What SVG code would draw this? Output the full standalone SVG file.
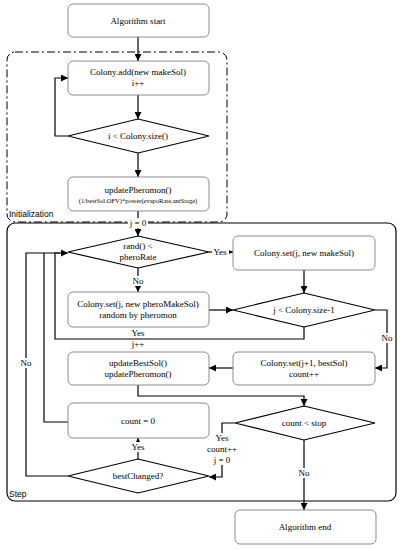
<svg xmlns="http://www.w3.org/2000/svg" width="400" height="550" viewBox="0 0 400 550">
<defs>
<marker id="ah" viewBox="0 0 10 10" refX="10" refY="5" markerWidth="7" markerHeight="7" markerUnits="userSpaceOnUse" orient="auto">
<path d="M0,0 L10,5 L0,10 z" fill="#000"/>
</marker>
<style>
.box{fill:#fff;stroke:#7f7f7f;stroke-width:0.9}
.dia{fill:#fff;stroke:#000;stroke-width:1.2}
.ln{fill:none;stroke:#000;stroke-width:1.2}
.arr{fill:none;stroke:#000;stroke-width:1.2;marker-end:url(#ah)}
.t{font-family:"Liberation Serif","Times New Roman",serif;font-size:9px;text-anchor:middle;fill:#000}
.s{font-family:"Liberation Serif","Times New Roman",serif;font-size:6.5px;text-anchor:middle;fill:#000}
.g{font-family:"Liberation Sans",Arial,sans-serif;font-size:8.5px;fill:#000}
.bg{fill:#fff}
</style>
</defs>
<rect width="400" height="550" fill="#fff"/>

<g id="init-group">
<rect x="7" y="52" width="220" height="170" rx="8" fill="none" stroke="#000" stroke-width="1" stroke-dasharray="8,3,2,3"/>
<text class="g" x="9" y="217">Initialization</text>
</g>
<g id="step-group">
<rect x="7" y="223" width="389" height="278" rx="8" fill="none" stroke="#000" stroke-width="1.2"/>
<text class="g" x="9" y="497">Step</text>
</g>

<g id="connectors">
<path class="arr" d="M138,37 V61"/>
<path class="arr" d="M138,95 V119"/>
<path class="arr" d="M68,136 H55 V78 H68"/>
<path class="arr" d="M138,153 V177"/>
<path class="arr" d="M138,211 V236"/>
<path class="arr" d="M209,252 H233"/>
<path class="arr" d="M138,268 V292"/>
<path class="arr" d="M304,270 V293"/>
<path class="arr" d="M209,310 H233"/>
<path class="arr" d="M304,327 V339 H55 V253 H68"/>
<path class="ln" d="M68,422 H44 V253"/>
<path class="ln" d="M68,476 H26 V253 H60"/>
<path class="arr" d="M375,310 H387 V368 H375"/>
<path class="arr" d="M233,368 H209"/>
<path class="arr" d="M138,385 V396 H304 V406"/>
<path class="arr" d="M235,423 H222 V477 H209"/>
<path class="arr" d="M138,459 V438"/>
<path class="arr" d="M304,440 V510"/>
<rect class="bg" x="128" y="218" width="20" height="10"/>
<text class="t" x="138" y="226">j = 0</text>
<rect class="bg" x="212" y="247" width="17" height="10"/>
<text class="t" x="220" y="255">Yes</text>
<rect class="bg" x="130" y="276" width="16" height="10"/>
<text class="t" x="138" y="284">No</text>
<text class="t" x="138" y="336">Yes</text>
<text class="t" x="138" y="347">j++</text>
<rect class="bg" x="379" y="333" width="16" height="10"/>
<text class="t" x="387" y="341">No</text>
<rect class="bg" x="18" y="358" width="16" height="10"/>
<text class="t" x="26" y="366">No</text>
<rect class="bg" x="207" y="433" width="30" height="32"/>
<text class="t" x="222" y="441">Yes</text>
<text class="t" x="222" y="452">count++</text>
<text class="t" x="222" y="463">j = 0</text>
<rect class="bg" x="129" y="442" width="18" height="10"/>
<text class="t" x="138" y="450">Yes</text>
<rect class="bg" x="296" y="468" width="16" height="10"/>
<text class="t" x="304" y="476">No</text>
</g>

<g id="start">
<rect class="box" x="68" y="4" width="141" height="33" rx="5"/>
<text class="t" x="138" y="23.5">Algorithm start</text>
</g>
<g id="colony-add">
<rect class="box" x="68" y="61" width="141" height="34" rx="5"/>
<text class="t" x="138" y="75">Colony.add(new makeSol)</text>
<text class="t" x="138" y="86">i++</text>
</g>
<g id="dec-size">
<polygon class="dia" points="138,119 209,136 138,153 68,136"/>
<text class="t" x="138" y="139">i &lt; Colony.size()</text>
</g>
<g id="update-phero-init">
<rect class="box" x="68" y="177" width="141" height="34" rx="5"/>
<text class="t" x="138" y="193">updatePheromon()</text>
<text class="s" x="138" y="203">(1/bestSol.OFV)*power(evapoRate,antStage)</text>
</g>
<g id="dec-rand">
<polygon class="dia" points="138,236 209,252 138,268 68,252"/>
<text class="t" x="138" y="249">rand() &lt;</text>
<text class="t" x="138" y="260">pheroRate</text>
</g>
<g id="colony-set-new">
<rect class="box" x="233" y="236" width="142" height="34" rx="5"/>
<text class="t" x="304" y="256">Colony.set(j, new makeSol)</text>
</g>
<g id="colony-set-phero">
<rect class="box" x="68" y="292" width="141" height="35" rx="5"/>
<text class="t" x="138" y="307">Colony.set(j, new pheroMakeSol)</text>
<text class="t" x="138" y="318">random by pheromon</text>
</g>
<g id="dec-j">
<polygon class="dia" points="304,293 375,310 304,327 233,310"/>
<text class="t" x="304" y="313">j &lt; Colony.size-1</text>
</g>
<g id="colony-set-best">
<rect class="box" x="233" y="352" width="142" height="33" rx="5"/>
<text class="t" x="304" y="366">Colony.set(j+1, bestSol)</text>
<text class="t" x="304" y="377">count++</text>
</g>
<g id="update-best">
<rect class="box" x="68" y="352" width="141" height="33" rx="5"/>
<text class="t" x="138" y="366">updateBestSol()</text>
<text class="t" x="138" y="377">updatePheromon()</text>
</g>
<g id="count-zero">
<rect class="box" x="68" y="403" width="141" height="35" rx="5"/>
<text class="t" x="138" y="424">count = 0</text>
</g>
<g id="dec-count">
<polygon class="dia" points="304,406 375,423 304,440 235,423"/>
<text class="t" x="304" y="426">count &lt; stop</text>
</g>
<g id="dec-best">
<polygon class="dia" points="138,459 209,476 138,493 68,476"/>
<text class="t" x="138" y="479">bestChanged?</text>
</g>
<g id="end">
<rect class="box" x="235" y="510" width="141" height="34" rx="5"/>
<text class="t" x="305" y="530">Algorithm end</text>
</g>
</svg>
